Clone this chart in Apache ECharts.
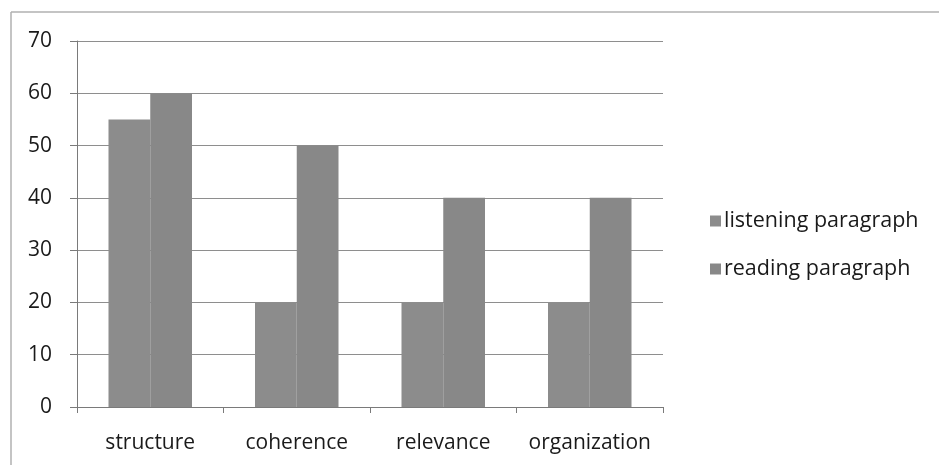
<!DOCTYPE html>
<html><head><meta charset="utf-8">
<script src="https://cdn.jsdelivr.net/npm/echarts@6/dist/echarts.min.js"></script>
<style>html,body{margin:0;padding:0;background:#fff}#c{width:939px;height:465px}</style>
</head><body><div id="c"></div>
<script>
const categories = ['structure', 'coherence', 'relevance', 'organization'];
const listening = [55, 20, 20, 20];
const reading = [60, 50, 40, 40];
const seriesNames = ['listening paragraph', 'reading paragraph'];
const yMin = 0, yMax = 70, yStep = 10;

const chart = echarts.init(document.getElementById('c'));
const font = 'Open Sans';
chart.setOption({
  animation: false,
  backgroundColor: '#fff',
  graphic: [
    { type: 'line', shape: { x1: 11, y1: 12, x2: 939, y2: 12 }, style: { stroke: '#b0b0b0', lineWidth: 1.5 } },
    { type: 'line', shape: { x1: 11, y1: 12, x2: 11, y2: 465 }, style: { stroke: '#b0b0b0', lineWidth: 1.5 } }
  ],
  grid: { left: 77, top: 41, width: 586, height: 366, containLabel: false },
  legend: {
    orient: 'vertical', left: 705, top: 205, itemGap: 26,
    itemWidth: 11, itemHeight: 11, icon: 'rect',
    textStyle: { fontFamily: font, fontSize: 21.5, color: '#1a1a1a', padding: [0, 0, 0, -2] },
    data: seriesNames
  },
  xAxis: {
    type: 'category', data: categories,
    axisLine: { lineStyle: { color: '#7a7a7a', width: 1 } },
    axisTick: { show: true, interval: 0, length: 6, lineStyle: { color: '#7a7a7a' } },
    axisLabel: { interval: 0, fontFamily: font, fontSize: 21, color: '#1a1a1a', margin: 26 }
  },
  yAxis: {
    type: 'value', min: yMin, max: yMax, interval: yStep,
    axisLine: { show: true, lineStyle: { color: '#7a7a7a', width: 1 } },
    axisTick: { show: true, length: 7, inside: false, lineStyle: { color: '#7a7a7a' } },
    axisLabel: { fontFamily: font, fontSize: 21, color: '#1a1a1a', margin: 25 },
    splitLine: { lineStyle: { color: '#8e8e8e', width: 1 } }
  },
  series: [
    { name: seriesNames[0], type: 'bar', data: listening, barGap: '0%', barCategoryGap: '43%',
      itemStyle: { color: '#8c8c8c' } },
    { name: seriesNames[1], type: 'bar', data: reading,
      itemStyle: { color: '#888888' } }
  ]
});
</script></body></html>
